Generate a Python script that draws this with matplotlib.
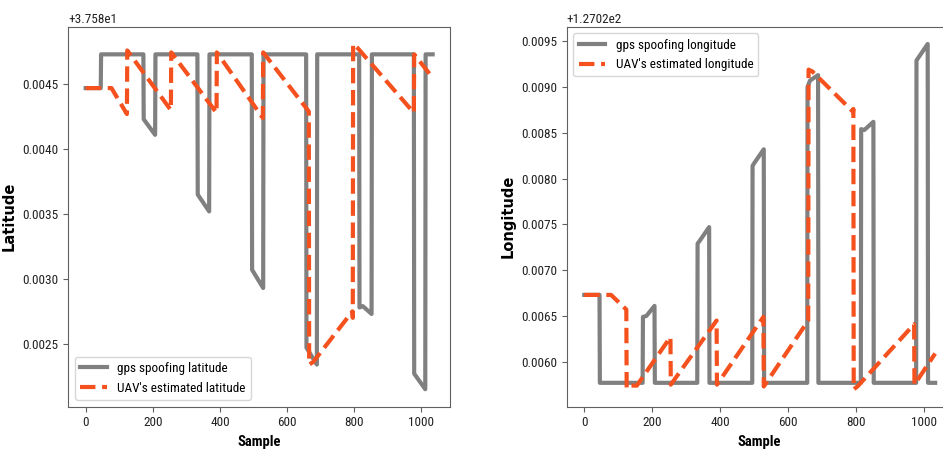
import matplotlib
matplotlib.use("Agg")
import matplotlib.pyplot as plt
from matplotlib import font_manager as fm

# ---------------- data ----------------
LAT_BASE = 37.58
LON_BASE = 127.02

gps_lat_x = [0, 45, 46, 172, 173, 207, 208, 333, 334, 368, 369, 495, 496, 529, 530,
             657, 658, 689, 690, 815, 816, 826, 852, 853, 978, 979, 1012, 1013, 1034]
gps_lat_y = [0.00447, 0.00447, 0.00473, 0.00473, 0.00423, 0.00411, 0.00473, 0.00473,
             0.00365, 0.00352, 0.00473, 0.00473, 0.00307, 0.00293, 0.00473, 0.00473,
             0.00247, 0.00234, 0.00473, 0.00473, 0.00278, 0.00279, 0.00273, 0.00473,
             0.00473, 0.00227, 0.00215, 0.00473, 0.00473]

est_lat_x = [0, 77, 123, 124, 254, 255, 390, 391, 528, 529, 665, 666, 678, 795, 796,
             797, 810, 978, 979, 1034]
est_lat_y = [0.00447, 0.00447, 0.00427, 0.00476, 0.00430, 0.004745, 0.00428, 0.004745,
             0.00424, 0.004745, 0.00429, 0.00234, 0.00236, 0.00275, 0.00270, 0.00481,
             0.00478, 0.00428, 0.00473, 0.00455]

gps_lon_x = [0, 45, 46, 172, 173, 183, 207, 208, 333, 334, 340, 368, 369, 495, 496, 503,
             529, 530, 657, 658, 665, 689, 690, 815, 816, 825, 852, 853, 978, 979, 1012,
             1013, 1034]
gps_lon_y = [0.00673, 0.00673, 0.00577, 0.00577, 0.00649, 0.00650, 0.00661, 0.00577,
             0.00577, 0.00729, 0.00732, 0.00747, 0.00577, 0.00577, 0.00814, 0.00818,
             0.00832, 0.00577, 0.00577, 0.00900, 0.00907, 0.00913, 0.00577, 0.00577,
             0.00854, 0.00853, 0.00862, 0.00577, 0.00577, 0.00929, 0.00947, 0.00577,
             0.00577]

est_lon_x = [0, 79, 124, 125, 135, 155, 254, 255, 390, 391, 528, 529, 660, 661, 672,
             792, 793, 794, 805, 972, 973, 1034]
est_lon_y = [0.00673, 0.00673, 0.00657, 0.00571, 0.00574, 0.00574, 0.00627, 0.00575,
             0.00645, 0.00575, 0.00649, 0.00573, 0.00645, 0.00919, 0.00917, 0.00873,
             0.00876, 0.00570, 0.00573, 0.00641, 0.00575, 0.00609]

labels = ["gps spoofing latitude", "UAV's estimated latitude",
          "gps spoofing longitude", "UAV's estimated longitude"]

# ---------------- font ----------------
names = {f.name for f in fm.fontManager.ttflist}
FONT = None
for cand in ["Roboto Condensed", "DejaVu Sans Condensed", "Liberation Sans Narrow",
             "Open Sans Condensed", "Noto Sans Condensed"]:
    if cand in names:
        FONT = cand
        break
if FONT is None:
    FONT = "DejaVu Sans"
    FS = 8.3
    XL = 8.8
else:
    FS = 9.5
    XL = 10.5
plt.rcParams["font.family"] = [FONT, "DejaVu Sans"]
plt.rcParams["font.size"] = FS

GRAY = "#808080"
ORANGE = "#F4511E"
SPINE = "#606060"

fig = plt.figure(figsize=(9.43, 4.49), dpi=100)
ax1 = fig.add_axes([68.3 / 943, 42.5 / 449, 381.7 / 943, 379.8 / 449])
ax2 = fig.add_axes([566.7 / 943, 42.5 / 449, 386.0 / 943, 379.8 / 449])

ax1.plot(gps_lat_x, [LAT_BASE + v for v in gps_lat_y], color=GRAY, lw=3,
         label=labels[0])
ax1.plot(est_lat_x, [LAT_BASE + v for v in est_lat_y], color=ORANGE, lw=3,
         ls="--", label=labels[1])
ax2.plot(gps_lon_x, [LON_BASE + v for v in gps_lon_y], color=GRAY, lw=3,
         label=labels[2])
ax2.plot(est_lon_x, [LON_BASE + v for v in est_lon_y], color=ORANGE, lw=3,
         ls="--", label=labels[3])

ax1.set_ylabel("Latitude", fontweight="bold", family="DejaVu Sans", fontsize=10.5)
ax2.set_ylabel("Longitude", fontweight="bold", family="DejaVu Sans", fontsize=10.5)
for ax in (ax1, ax2):
    ax.set_xlabel("Sample", fontweight="bold", fontsize=XL)
    ax.set_xticks([0, 200, 400, 600, 800, 1000])
    for s in ax.spines.values():
        s.set_color(SPINE)
    ax.tick_params(color=SPINE, labelcolor="#222222")

ax1.legend(loc="lower left")
ax2.legend(loc="upper left")

fig.savefig("out.png", dpi=100)
